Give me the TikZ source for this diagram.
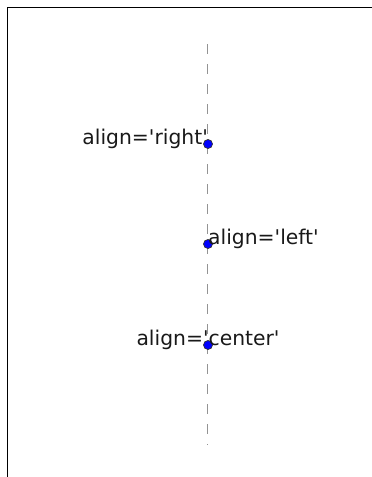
\documentclass[tikz,border=0pt]{standalone}
\usepackage{fontspec}
\newfontfamily\lblfont{DejaVu Sans}
\usetikzlibrary{positioning}

\begin{document}
\begin{tikzpicture}[
  x=1pt, y=-1pt,
  dot/.style={circle, draw=black!80, fill=blue, inner sep=0pt, minimum size=9pt, line width=0.7pt},
  lbl/.style={inner sep=0pt, font=\lblfont\fontsize{20.3}{24}\selectfont, text=black!90},
  guide/.style={gray!85, line width=1.4pt, dash pattern=on 10pt off 10pt},
  frame/.style={black, line width=1.6pt}
]
  \useasboundingbox (0,0) rectangle (372,477);

  % Axes frame
  \draw[frame] (7.5,477) -- (7.5,7.5) -- (372,7.5);

  % Guide line
  \coordinate (top) at (207.5,44);
  \coordinate (bot) at (207.5,445);
  \draw[guide] (top) -- (bot);

  % Points
  \node[dot] (pright) at (208,144) {};
  \node[dot] (pleft) at (208,244) {};
  \node[dot] (pcenter) at (208,345) {};

  % Labels
  \node[lbl, anchor=base east] (tright) at (pright.center) {align='right'};
  \node[lbl, anchor=base west] (tleft) at (pleft.center) {align='left'};
  \node[lbl, anchor=base] (tcenter) at (pcenter.center) {align='center'};
\end{tikzpicture}
\end{document}
